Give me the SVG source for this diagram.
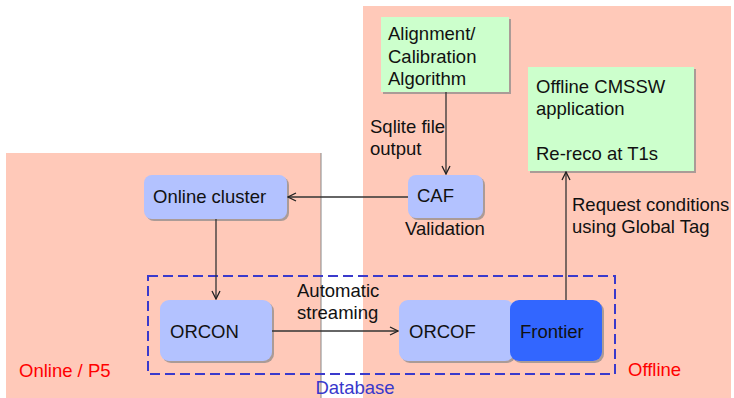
<svg xmlns="http://www.w3.org/2000/svg" width="734" height="398" viewBox="0 0 734 398">
<defs>
<marker id="arr" viewBox="0 0 10 10" refX="9" refY="5" markerWidth="10" markerHeight="10" markerUnits="userSpaceOnUse" orient="auto">
<polyline points="1,1 9,5 1,9" fill="none" stroke="#222" stroke-width="1.3"/>
</marker>
<filter id="sh" x="-10%" y="-10%" width="130%" height="130%">
<feDropShadow dx="2" dy="2" stdDeviation="0.6" flood-color="#888" flood-opacity="0.7"/>
</filter>
</defs>
<style>
text{font-family:"Liberation Sans",Arial,sans-serif;font-size:18.5px;fill:#111}
.panel{fill:#ffc9b9}
.green{fill:#ccffcc;filter:url(#sh)}
.lav{fill:#b3c2ff;filter:url(#sh)}
.dark{fill:#3366ff;filter:url(#sh)}
.red{fill:#ff0000}
.db{fill:#3838cc}
.conn{stroke:#333;stroke-width:1.3;fill:none}
</style>
<rect width="734" height="398" fill="#ffffff"/>
<g id="panel-online">
<rect class="panel" x="6" y="153" width="315" height="245"/>
<line x1="321" y1="153" x2="321" y2="398" stroke="#888" stroke-width="1"/>
<text class="red" x="19" y="377">Online / P5</text>
</g>
<g id="panel-offline">
<rect class="panel" x="363" y="6" width="368" height="392"/>
<text class="red" x="628" y="376">Offline</text>
</g>
<g id="database">
<rect x="148" y="276" width="467" height="98" fill="none" stroke="#3a3acc" stroke-width="2" stroke-dasharray="10,5"/>
<text class="db" x="355" y="394" text-anchor="middle">Database</text>
</g>
<g id="alignment">
<rect class="green" x="381" y="17" width="128" height="75"/>
<text x="388" y="40">Alignment/</text>
<text x="388" y="62.5">Calibration</text>
<text x="388" y="85">Algorithm</text>
</g>
<g id="offline-cmssw">
<rect class="green" x="528" y="67" width="166" height="104"/>
<text x="536" y="93">Offline CMSSW</text>
<text x="536" y="115">application</text>
<text x="536" y="160">Re-reco at T1s</text>
</g>
<g id="caf">
<rect class="lav" x="408" y="175" width="75" height="43" rx="8"/>
<text x="417" y="202">CAF</text>
<text x="405" y="235">Validation</text>
</g>
<g id="online-cluster">
<rect class="lav" x="144" y="175" width="143" height="44" rx="8"/>
<text x="153" y="203">Online cluster</text>
</g>
<g id="orcon">
<rect class="lav" x="160" y="300" width="112" height="61" rx="9"/>
<text x="170" y="338">ORCON</text>
</g>
<g id="orcof">
<rect class="lav" x="399" y="300" width="115" height="61" rx="9"/>
<text x="409" y="338">ORCOF</text>
</g>
<g id="frontier">
<rect class="dark" x="510" y="300" width="92" height="61" rx="9"/>
<text x="520" y="338">Frontier</text>
</g>
<g id="connectors">
<line class="conn" x1="446" y1="92" x2="446" y2="174" marker-end="url(#arr)"/>
<line class="conn" x1="408" y1="197" x2="288" y2="197" marker-end="url(#arr)"/>
<line class="conn" x1="216" y1="219" x2="216" y2="299" marker-end="url(#arr)"/>
<line class="conn" x1="272" y1="331" x2="398" y2="331" marker-end="url(#arr)"/>
<line class="conn" x1="566" y1="300" x2="566" y2="172" marker-end="url(#arr)"/>
<text x="370" y="133">Sqlite file</text>
<text x="370" y="155">output</text>
<text x="297" y="297">Automatic</text>
<text x="297" y="319">streaming</text>
<text x="572" y="211">Request conditions</text>
<text x="572" y="233">using Global Tag</text>
</g>
</svg>
